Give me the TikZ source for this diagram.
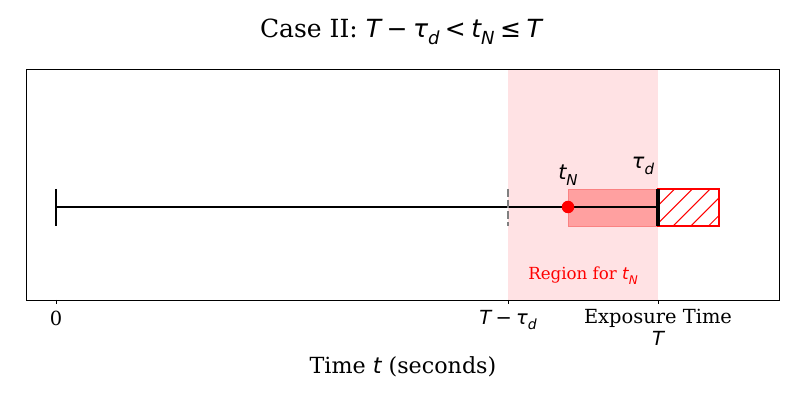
\documentclass[tikz,border=0pt]{standalone}
\usepackage{fontspec}
\setmainfont{DejaVu Serif}
\newfontfamily\dvs{DejaVu Sans}
\newcommand{\mi}[1]{{\dvs\itshape #1}}
\newcommand{\mr}[1]{{\dvs #1}}
\newcommand{\sbx}[1]{\raisebox{-0.3em}{\scalebox{0.72}{#1}}}
\newcommand{\bs}{\hspace{0.22em}}
\definecolor{bandpink}{RGB}{255,226,228}
\definecolor{boxred}{RGB}{255,160,160}
\definecolor{boxedge}{RGB}{250,130,130}
\definecolor{mplred}{RGB}{255,0,0}
\definecolor{dashgray}{RGB}{128,128,128}
\tikzset{
  lbl/.style={inner sep=0pt, anchor=center},
  mainline/.style={black, line width=1.5pt},
}
\begin{document}
\begin{tikzpicture}[x=0.72pt,y=-0.72pt]
\useasboundingbox (0,0) rectangle (800,400);
% band
\fill[bandpink] (508,69) rectangle (658,300);
% darker region
\fill[boxred] (568,189) rectangle (658,226);
\draw[boxedge, line width=0.6pt] (568,189) rectangle (658,226);
% hatched box
\begin{scope}
\clip (658,189) rectangle (719,226);
\foreach \c in {846,863.7,...,970} {
  \draw[mplred, line width=0.75pt] (\c-189,189) -- (\c-226,226);
}
\end{scope}
\draw[mplred, line width=0.75pt] (658,189) rectangle (719,226);
% main line
\coordinate (start) at (56,207);
\coordinate (endT) at (658,207);
\draw[mainline] (start) -- (endT);
\draw[mainline] (56,189) -- (56,226);
\draw[black, line width=2.2pt] (658,189) -- (658,226);
\draw[dashgray, line width=1.1pt, dash pattern=on 5.5pt off 2.5pt] (508,189) -- (508,226);
% red dot
\node[circle, fill=mplred, minimum size=9pt, inner sep=0pt] (tN) at (568,207) {};
% axes frame
\draw[black, line width=0.7pt] (26,69) rectangle (779,300);
% ticks
\foreach \x in {56,508,658} \draw[black, line width=0.7pt] (\x,300) -- (\x,304.5);
% labels
\node[lbl] (ltN) at (568,175) {\fontsize{15}{15}\selectfont\mi{t}\sbx{\mi{N}}};
\node[lbl] (ltd) at (643,166) {\fontsize{15}{15}\selectfont\mi{τ}\sbx{\mi{d}}};
\node[lbl, text=mplred] (reg) at (583,276) {\fontsize{12}{12}\selectfont Region for \mi{t}\sbx{\mi{N}}};
\node[lbl] (x0) at (56,318) {\fontsize{14}{14}\selectfont 0};
\node[lbl] (x1) at (508,320) {\fontsize{14}{14}\selectfont\mi{T}\bs\mr{−}\bs\mi{τ}\sbx{\mi{d}}};
\node[lbl] (x2) at (658,318) {\fontsize{14}{14}\selectfont Exposure Time};
\node[lbl] (x3) at (658,338) {\fontsize{14}{14}\selectfont\mi{T}};
\node[lbl] (xl) at (403,367) {\fontsize{16}{16}\selectfont Time \mi{t} (seconds)};
\node[lbl] (title) at (401,32) {\fontsize{18}{18}\selectfont Case II: \mi{T}\bs\mr{−}\bs\mi{τ}\sbx{\mi{d}}\bs\mr{<}\bs\mi{t}\sbx{\mi{N}}\bs\mr{≤}\bs\mi{T}};
\end{tikzpicture}
\end{document}
